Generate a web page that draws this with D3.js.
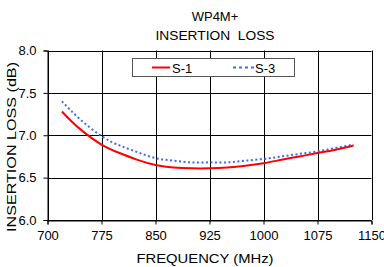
<!DOCTYPE html>
<html lang="en">
<head>
  <meta charset="UTF-8">
  <title>WP4M+ Insertion Loss</title>
  <style>
    body { margin: 0; background: #fff; }
    svg text { font-family: "Liberation Sans", Arial, sans-serif; fill: #000; }
  </style>
</head>
<body>
  <div id="chart"></div>
  <script src="https://d3js.org/d3.v7.min.js"></script>
  <script>
    // Werte
    var freqS1 = [720, 735, 750, 775, 800, 825, 850, 875, 900, 925, 950, 975, 1000, 1025, 1050, 1075, 1100, 1125];
    var lossS1 = [7.28, 7.15, 7.04, 6.89, 6.79, 6.71, 6.65, 6.62, 6.61, 6.61, 6.62, 6.64, 6.67, 6.71, 6.75, 6.79, 6.83, 6.88];
    var freqS3 = [720, 745, 775, 800, 825, 850, 875, 900, 925, 950, 975, 1000, 1025, 1050, 1075, 1100, 1125];
    var lossS3 = [7.40, 7.19, 6.99, 6.88, 6.80, 6.73, 6.70, 6.68, 6.68, 6.68, 6.70, 6.72, 6.75, 6.78, 6.81, 6.85, 6.89];
    var xTicks = [700, 775, 850, 925, 1000, 1075, 1150];
    var yTicks = [6.0, 6.5, 7.0, 7.5, 8.0];

    var width = 384, height = 267;
    var plot = { left: 47.5, right: 371.5, top: 50.5, bottom: 220 };

    var svg = d3.select('#chart')
      .append('svg')
      .attr('width', width)
      .attr('height', height);

    var xScale = d3.scaleLinear().domain([700, 1150]).range([plot.left, plot.right]);
    var yScale = d3.scaleLinear().domain([6, 8]).range([plot.bottom, plot.top]);

    // Gitterlinien
    svg.append('g')
      .selectAll('line')
      .data(yTicks)
      .enter()
      .append('line')
      .attr('x1', plot.left).attr('x2', plot.right)
      .attr('y1', function(d) { return Math.round(yScale(d)) + 0.5; })
      .attr('y2', function(d) { return Math.round(yScale(d)) + 0.5; })
      .attr('stroke', '#000').attr('stroke-width', 1);

    svg.append('g')
      .selectAll('line')
      .data(xTicks)
      .enter()
      .append('line')
      .attr('x1', function(d) { return Math.round(xScale(d)) + 0.5; })
      .attr('x2', function(d) { return Math.round(xScale(d)) + 0.5; })
      .attr('y1', plot.top).attr('y2', plot.bottom)
      .attr('stroke', '#000').attr('stroke-width', 1);

    // Achsen
    var xAxis = d3.axisBottom(xScale).tickValues(xTicks).tickSize(4).tickPadding(6)
      .tickFormat(d3.format('d'));
    var yAxis = d3.axisLeft(yScale).tickValues(yTicks).tickSize(4).tickPadding(7)
      .tickFormat(d3.format('.1f'));

    var gx = svg.append('g')
      .attr('transform', 'translate(0,' + (Math.round(plot.bottom) + 0.5) + ')')
      .call(xAxis);
    var gy = svg.append('g')
      .attr('transform', 'translate(' + (Math.round(plot.left) - 0.5) + ',0)')
      .call(yAxis);

    [gx, gy].forEach(function(g) {
      g.select('.domain').attr('stroke', '#000');
      g.selectAll('.tick line').attr('stroke', '#000');
      g.selectAll('.tick text').attr('font-size', 13).attr('fill', '#000')
        .style('font-family', '"Liberation Sans", Arial, sans-serif');
    });

    // Linien
    var line = d3.line()
      .x(function(d) { return xScale(d[0]); })
      .y(function(d) { return yScale(d[1]); })
      .curve(d3.curveNatural);

    var s1 = d3.zip(freqS1, lossS1);
    var s3 = d3.zip(freqS3, lossS3);

    svg.append('path')
      .datum(s3)
      .attr('fill', 'none')
      .attr('stroke', '#3b6cf0')
      .attr('stroke-width', 2)
      .attr('stroke-dasharray', '2,2.5')
      .attr('d', line);

    svg.append('path')
      .datum(s1)
      .attr('fill', 'none')
      .attr('stroke', '#ff0000')
      .attr('stroke-width', 2)
      .attr('d', line);

    // Legende
    var legend = svg.append('g');
    legend.append('rect')
      .attr('x', 132.5).attr('y', 58.5)
      .attr('width', 162).attr('height', 18)
      .attr('fill', '#fff')
      .attr('stroke', '#555').attr('stroke-width', 1);
    legend.append('line')
      .attr('x1', 152).attr('x2', 170).attr('y1', 67.5).attr('y2', 67.5)
      .attr('stroke', '#ff0000').attr('stroke-width', 2);
    legend.append('text')
      .attr('x', 172).attr('y', 72.5).attr('font-size', 13).text('S-1');
    legend.append('line')
      .attr('x1', 233).attr('x2', 254).attr('y1', 67.5).attr('y2', 67.5)
      .attr('stroke', '#3b6cf0').attr('stroke-width', 2)
      .attr('stroke-dasharray', '3,3');
    legend.append('text')
      .attr('x', 255).attr('y', 72.5).attr('font-size', 13).text('S-3');

    // Titel
    svg.append('text')
      .attr('x', 215).attr('y', 21).attr('text-anchor', 'middle')
      .attr('font-size', 13).text('WP4M+');
    svg.append('text')
      .attr('x', 215).attr('y', 39.5).attr('text-anchor', 'middle')
      .attr('font-size', 13).attr('textLength', 119)
      .attr('lengthAdjust', 'spacingAndGlyphs')
      .style('white-space', 'pre')
      .text('INSERTION  LOSS');

    svg.append('text')
      .attr('x', 205).attr('y', 263).attr('text-anchor', 'middle')
      .attr('font-size', 13).attr('textLength', 137)
      .attr('lengthAdjust', 'spacingAndGlyphs')
      .text('FREQUENCY (MHz)');

    svg.append('text')
      .attr('transform', 'translate(16,147) rotate(-90)')
      .attr('text-anchor', 'middle')
      .attr('font-size', 13).attr('textLength', 170)
      .attr('lengthAdjust', 'spacingAndGlyphs')
      .text('INSERTION LOSS (dB)');
  </script>
</body>
</html>
